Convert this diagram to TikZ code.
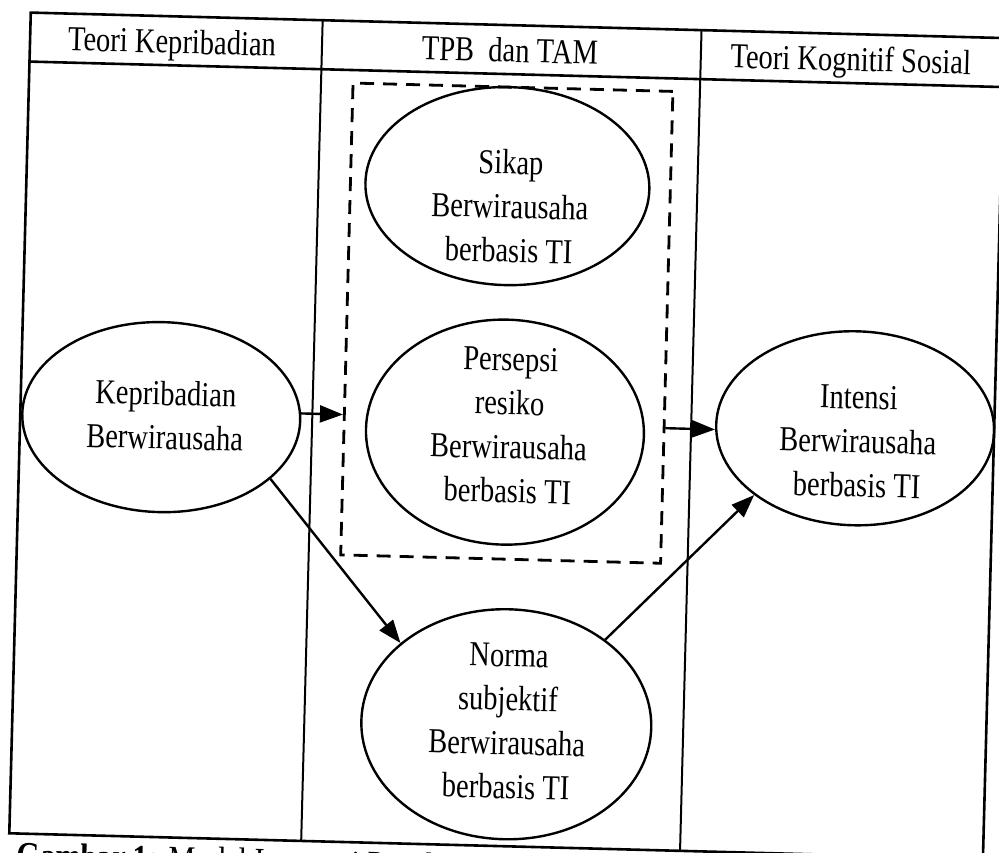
\documentclass[tikz,border=0pt]{standalone}
\usepackage{fontspec}
\setmainfont{Liberation Serif}[FakeStretch=0.815]
\usetikzlibrary{shapes.geometric,arrows.meta}
\begin{document}
\begin{tikzpicture}[x=1pt,y=-1pt,
  frame/.style={line width=2.6pt},
  divider/.style={line width=2pt},
  oval/.style={draw,ellipse,line width=2.4pt,inner sep=0pt},
  lbl/.style={align=center,font=\fontsize{35}{44}\selectfont,inner sep=0pt},
  hdr/.style={anchor=base,font=\fontsize{35}{44}\selectfont,inner sep=0pt},
  dbox/.style={draw,line width=2.8pt,dash pattern=on 14pt off 9pt,inner sep=0pt},
  arr/.style={line width=2.4pt,-{Triangle[length=23pt,width=17pt]}},
]
\useasboundingbox[fill=white] (0,0) rectangle (999,853);
\begin{scope}[rotate around={-1.5:(500,430)},transform shape]
  % table
  \draw[frame] (20,25) rectangle (994,846);
  \draw[frame] (20,74) -- (994,74);
  \draw[divider] (312,25) -- (312,846);
  \draw[divider] (691,25) -- (691,846);
  \node[hdr] (h1) at (162,62) {Teori Kepribadian};
  \node[hdr] (h2) at (500,62) {TPB~ dan TAM};
  \node[hdr] (h3) at (841,62) {Teori Kognitif Sosial};
  % dashed group
  \node[dbox,minimum width=320pt,minimum height=472pt] (box) at (504,323) {};
  % ellipses
  \node[oval,minimum width=284pt,minimum height=198pt] (sikap) at (501,186) {};
  \node[oval,minimum width=278pt,minimum height=225pt] (persepsi) at (505,432) {};
  \node[oval,minimum width=290pt,minimum height=230pt] (norma) at (514,724) {};
  \node[oval,minimum width=278pt,minimum height=190pt] (kep) at (161,426) {};
  \node[oval,minimum width=278pt,minimum height=194pt] (intensi) at (855,419) {};
  % texts
  \node[lbl] (sikapT) at (504,206) {Sikap\\Berwirausaha\\berbasis TI};
  \node[lbl] (persepsiT) at (509,425) {Persepsi\\resiko\\Berwirausaha\\berbasis TI};
  \node[lbl] (normaT) at (515,721) {Norma\\subjektif\\Berwirausaha\\berbasis TI};
  \node[lbl] (kepT) at (165,424) {Kepribadian\\Berwirausaha};
  \node[lbl] (intensiT) at (858,432) {Intensi\\Berwirausaha\\berbasis TI};
  % arrows
  \draw[arr] (kep.3) -- (kep.3 -| box.west);
  \draw[arr] (box.east |- intensi.182) -- (intensi.182);
  \draw[arr] (kep.-28) -- (norma.144);
  \draw[arr] (norma.42) -- (intensi.-145);
  % caption (cut by the page edge, as in the reference)
  \node[anchor=base west,inner sep=0pt,font=\fontsize{37}{44}\selectfont] (cap) at (28,880) {\textbf{Gambar 1:} Model Integrasi Penelitian};
\end{scope}
\end{tikzpicture}
\end{document}
